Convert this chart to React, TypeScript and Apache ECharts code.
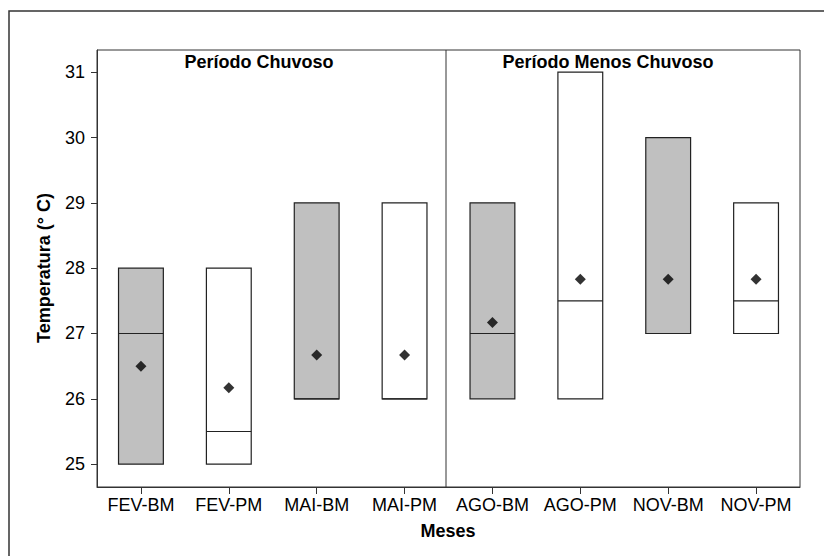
import React, { useEffect, useRef } from "react";
import * as echarts from "echarts";

const categories = ["FEV-BM", "FEV-PM", "MAI-BM", "MAI-PM", "AGO-BM", "AGO-PM", "NOV-BM", "NOV-PM"];
const minValues = [25, 25, 26, 26, 26, 26, 27, 27];
const maxValues = [28, 28, 29, 29, 29, 31, 30, 29];
const medianValues = [27, 25.5, 26, 26, 27, 27.5, 27, 27.5];
const meanValues = [26.5, 26.17, 26.67, 26.67, 27.17, 27.83, 27.83, 27.83];
const yTicks = [25, 26, 27, 28, 29, 30, 31];
const periodTitles = ["Período Chuvoso", "Período Menos Chuvoso"];
const yAxisTitle = "Temperatura (° C)";
const xAxisTitle = "Meses";

const FONT = "'Liberation Sans', Arial, Helvetica, sans-serif";

export default function App() {
  const ref = useRef<HTMLDivElement>(null);

  useEffect(() => {
    if (!ref.current) return;
    const chart = echarts.init(ref.current, undefined, { renderer: "svg" });
    const boxData = categories.map((c, i) => [i, minValues[i], maxValues[i], medianValues[i]]);

    chart.setOption({
      animation: false,
      backgroundColor: "#ffffff",
      grid: {
        left: 97,
        top: 50,
        right: 24,
        bottom: 69,
        show: true,
        borderColor: "#333",
        borderWidth: 1,
        backgroundColor: "transparent",
      },
      xAxis: {
        type: "category",
        data: categories,
        boundaryGap: true,
        axisLine: { show: true, lineStyle: { color: "#333", width: 1 } },
        axisTick: { show: true, alignWithLabel: true, length: 7, lineStyle: { color: "#333" } },
        axisLabel: { fontSize: 18, color: "#000", fontFamily: FONT, margin: 9, interval: 0 },
        splitLine: { show: false },
      },
      yAxis: {
        type: "value",
        min: 24.65,
        max: 31.34,
        axisLine: { show: true, lineStyle: { color: "#333", width: 1 } },
        axisTick: { show: true, length: 6, customValues: yTicks, lineStyle: { color: "#333" } },
        axisLabel: { fontSize: 18, color: "#000", fontFamily: FONT, margin: 12, customValues: yTicks },
        splitLine: { show: false },
      },
      series: [
        {
          type: "custom",
          data: boxData,
          encode: { x: 0, y: [1, 2, 3] },
          z: 2,
          renderItem: (params: any, api: any) => {
            const x = api.value(0);
            const lo = api.coord([x, api.value(1)]);
            const hi = api.coord([x, api.value(2)]);
            const med = api.coord([x, api.value(3)]);
            const w = api.size([1, 0])[0] * 0.51;
            const fill = categories[params.dataIndex].endsWith("BM") ? "#c0c0c0" : "#ffffff";
            return {
              type: "group",
              children: [
                {
                  type: "rect",
                  shape: { x: lo[0] - w / 2, y: hi[1], width: w, height: lo[1] - hi[1] },
                  style: { fill, stroke: "#222", lineWidth: 1.2 },
                },
                {
                  type: "line",
                  shape: { x1: lo[0] - w / 2, y1: med[1], x2: lo[0] + w / 2, y2: med[1] },
                  style: { stroke: "#222", lineWidth: 1.2 },
                },
              ],
            };
          },
        },
        {
          type: "scatter",
          data: meanValues,
          symbol: "diamond",
          symbolSize: 11,
          itemStyle: { color: "#000" },
          z: 3,
        },
      ],
      graphic: [
        {
          type: "polyline",
          shape: { points: [[9, 556], [9, 11], [824, 11]] },
          style: { stroke: "#333", lineWidth: 1.5, fill: "none" },
          z: 10,
        },
        {
          type: "line",
          shape: { x1: 446, y1: 50, x2: 446, y2: 487 },
          style: { stroke: "#333", lineWidth: 1 },
          z: 10,
        },
        {
          type: "text",
          x: 259,
          y: 62,
          style: {
            text: periodTitles[0],
            font: `bold 18px ${FONT}`,
            fill: "#000",
            textAlign: "center",
            textVerticalAlign: "middle",
          },
          z: 10,
        },
        {
          type: "text",
          x: 608,
          y: 62,
          style: {
            text: periodTitles[1],
            font: `bold 18px ${FONT}`,
            fill: "#000",
            textAlign: "center",
            textVerticalAlign: "middle",
          },
          z: 10,
        },
        {
          type: "text",
          x: 44,
          y: 268,
          rotation: Math.PI / 2,
          style: {
            text: yAxisTitle,
            font: `bold 18px ${FONT}`,
            fill: "#000",
            textAlign: "center",
            textVerticalAlign: "middle",
          },
          z: 10,
        },
        {
          type: "text",
          x: 448,
          y: 531,
          style: {
            text: xAxisTitle,
            font: `bold 18px ${FONT}`,
            fill: "#000",
            textAlign: "center",
            textVerticalAlign: "middle",
          },
          z: 10,
        },
      ],
    });

    return () => {
      chart.dispose();
    };
  }, []);

  return (
    <div
      ref={ref}
      style={{ position: "absolute", left: 0, top: 0, width: 824, height: 556 }}
    />
  );
}
